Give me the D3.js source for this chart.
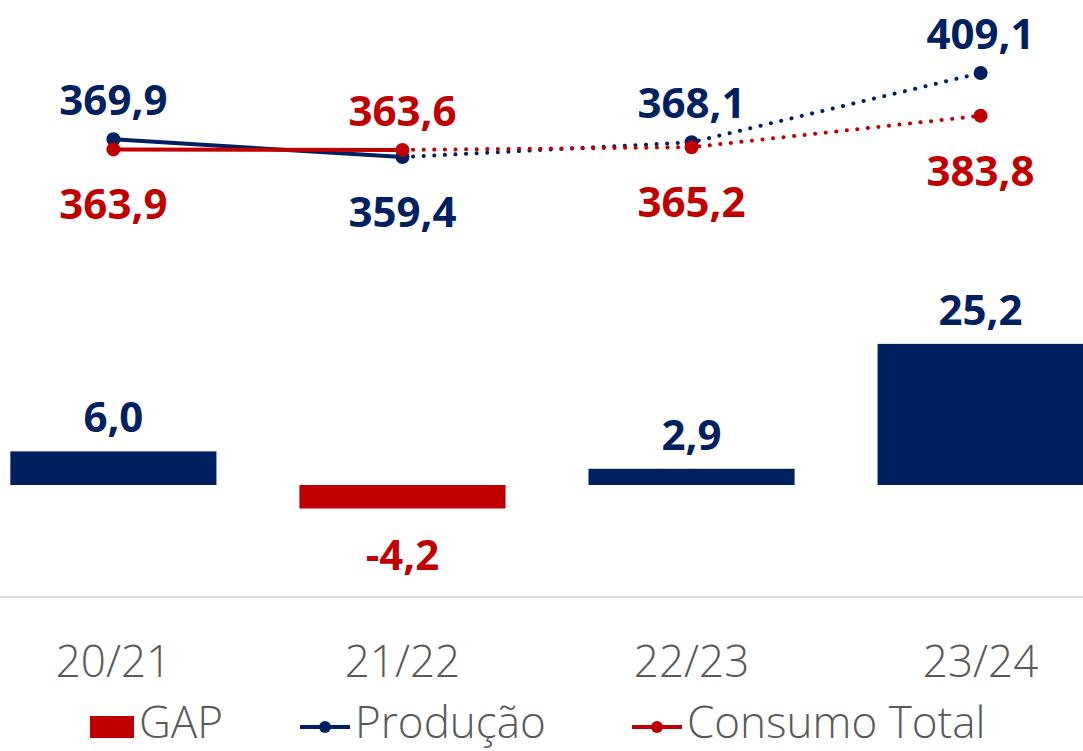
<!DOCTYPE html>
<html>
<head>
<meta charset="utf-8">
<script src="https://cdn.jsdelivr.net/npm/d3@7"></script>
<style>
  body { margin: 0; background: #fff; }
  svg { display: block; font-family: "Open Sans", "DejaVu Sans", sans-serif; }
</style>
</head>
<body>
<div class="chart"></div>
<script>
// safras
const seasons = ["20/21", "21/22", "22/23", "23/24"]
const producao = [369.9, 359.4, 368.1, 409.1]
const consumo = [363.9, 363.6, 365.2, 383.8]
const gap = [6.0, -4.2, 2.9, 25.2]
const legendItems = ["GAP", "Produção", "Consumo Total"]

const w = 1083
const h = 751
const navy = "#002060"
const red = "#c00000"

// pt-BR style: comma decimal, plain hyphen minus
const fmt = v => d3.format(".1f")(v).replace(".", ",").replace("\u2212", "-")

const svg = d3.select(".chart")
  .append("svg")
  .attr("width", w)
  .attr("height", h)

const x = d3.scaleBand()
  .domain(seasons)
  .range([-31, 1125])
  .paddingInner(0.287)
  .paddingOuter(0.143)

const cx = d => x(d) + x.bandwidth() / 2

// lines scale (top part)
const yLine = d3.scaleLinear()
  .domain([300, 420])
  .range([257.4, 54.6])

// bar scale (bottom part)
const yBar = d3.scaleLinear()
  .domain([-10, 30])
  .range([541, 317])

// axis line
svg.append("line")
  .attr("x1", 0).attr("x2", w)
  .attr("y1", 597).attr("y2", 597)
  .attr("stroke", "#d9d9d9")
  .attr("stroke-width", 2)

// x labels
svg.selectAll(".xlab")
  .data(seasons)
  .enter()
  .append("text")
  .attr("class", "xlab")
  .attr("x", d => cx(d))
  .attr("y", 677)
  .attr("text-anchor", "middle")
  .style("font-size", "44px")
  .style("font-weight", 300)
  .style("fill", "#595959")
  .text(d => d)

// GAP bars
svg.selectAll(".bar")
  .data(gap)
  .enter()
  .append("rect")
  .attr("class", "bar")
  .attr("x", (d, i) => x(seasons[i]))
  .attr("width", x.bandwidth())
  .attr("y", d => Math.min(yBar(d), yBar(0)))
  .attr("height", d => Math.abs(yBar(d) - yBar(0)))
  .style("fill", d => d < 0 ? red : navy)

svg.selectAll(".barlab")
  .data(gap)
  .enter()
  .append("text")
  .attr("class", "barlab")
  .attr("x", (d, i) => cx(seasons[i]))
  .attr("y", d => d < 0 ? yBar(d) + 61 : yBar(d) - 19)
  .attr("text-anchor", "middle")
  .style("font-size", "42px")
  .style("font-weight", 700)
  .style("fill", d => d < 0 ? red : navy)
  .text(d => fmt(d))

// lines: first segment solid, rest dotted
function drawSeries(vals, other, color) {
  const pts = vals.map((v, i) => [cx(seasons[i]), yLine(v)])
  const line = d3.line()
  svg.append("path")
    .attr("d", line(pts.slice(0, 2)))
    .attr("fill", "none")
    .attr("stroke", color)
    .attr("stroke-width", 4)
  svg.append("path")
    .attr("d", line(pts.slice(1)))
    .attr("fill", "none")
    .attr("stroke", color)
    .attr("stroke-width", 4)
    .attr("stroke-linecap", "round")
    .attr("stroke-dasharray", "0.1 10.5")
  svg.selectAll(null)
    .data(pts)
    .enter()
    .append("circle")
    .attr("cx", d => d[0])
    .attr("cy", d => d[1])
    .attr("r", 7)
    .style("fill", color)
  svg.selectAll(null)
    .data(vals)
    .enter()
    .append("text")
    .attr("x", (d, i) => cx(seasons[i]))
    .attr("y", (d, i) => d >= other[i] ? yLine(d) - 24 : yLine(d) + 70)
    .attr("text-anchor", "middle")
    .style("font-size", "42px")
    .style("font-weight", 700)
    .style("fill", color)
    .text(d => fmt(d))
}
drawSeries(producao, consumo, navy)
drawSeries(consumo, producao, red)

// legend
const lg = svg.append("g").attr("class", "legend")
lg.append("rect")
  .attr("x", 90).attr("y", 716).attr("width", 44).attr("height", 22)
  .style("fill", red)
lg.append("text").attr("x", 139).attr("y", 738).text(legendItems[0])

const lineKeys = [[300, navy, legendItems[1]], [632, red, legendItems[2]]]
lineKeys.forEach(k => {
  lg.append("line")
    .attr("x1", k[0]).attr("x2", k[0] + 50)
    .attr("y1", 727).attr("y2", 727)
    .attr("stroke", k[1]).attr("stroke-width", 4)
  lg.append("circle")
    .attr("cx", k[0] + 25).attr("cy", 727).attr("r", 6)
    .style("fill", k[1])
  lg.append("text").attr("x", k[0] + 55).attr("y", 738).text(k[2])
})
lg.selectAll("text")
  .style("font-size", "44px")
  .style("font-weight", 300)
  .style("fill", "#595959")
</script>
</body>
</html>
